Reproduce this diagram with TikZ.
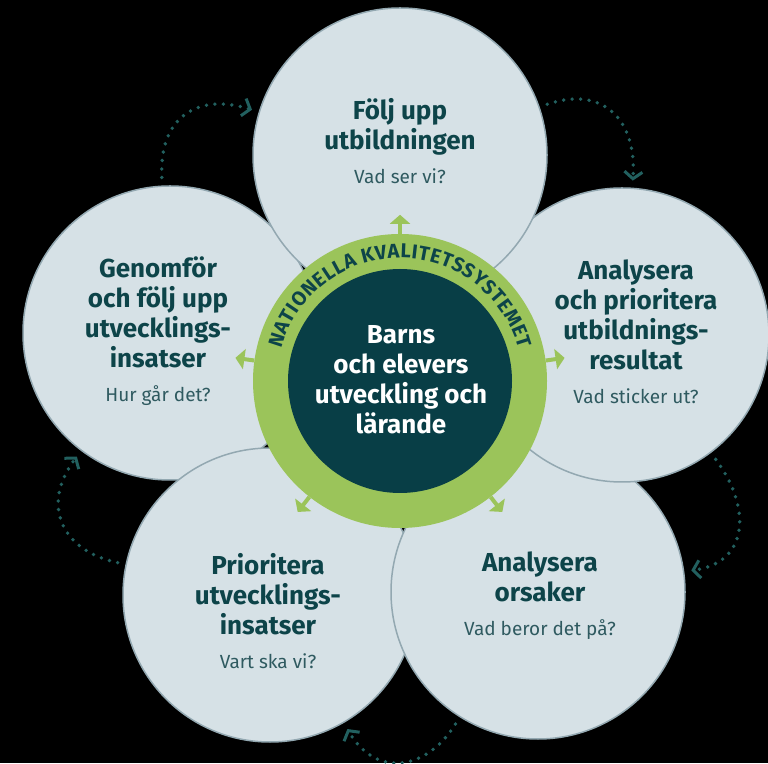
\documentclass[tikz,border=0pt]{standalone}
\usepackage{fontspec}
\setmainfont{Fira Sans}
\usetikzlibrary{positioning,arrows.meta,decorations.text}

\definecolor{petalfill}{HTML}{D6E1E6}
\definecolor{petaledge}{HTML}{93A8B1}
\definecolor{tealdark}{HTML}{0D4449}
\definecolor{tealsoft}{HTML}{2F5A60}
\definecolor{ringgreen}{HTML}{9BC45A}
\definecolor{coreteal}{HTML}{083E46}
\definecolor{dotteal}{HTML}{22605F}

\newcommand{\questfont}{\fontsize{19}{30}\selectfont\mdseries\color{tealsoft}}

\tikzstyle{petal} = [circle, fill=petalfill, draw=petaledge, line width=1.5pt,
                     minimum size=294pt, inner sep=0pt]
\tikzstyle{cyclearrow} = [dotteal, line width=3.8pt, line cap=round, dash pattern=on 0pt off 8.5pt,
                          -{Straight Barb[length=7pt,width=18pt,line width=3pt]},
                          shorten <=8pt, shorten >=7pt, looseness=1.4]

\begin{document}
\begin{tikzpicture}[
    x=1pt, y=1pt,
    stagetext/.style={
        text width=240pt,
        align=flush center,
        text=tealdark,
        font=\fontsize{26}{30}\selectfont\bfseries
    },
    ringarrow/.style={
        ringgreen,
        line width=4pt,
        -{Triangle[length=9pt,width=20pt]}
    }
    ]

    \fill[black] (0,0) rectangle (768,763);
    \useasboundingbox (0,0) rectangle (768,763);

    % the five steps
    \node[petal] (genomfor) at (170,430) {};
    \node[petal] (prioritera) at (270,168) {};
    \node[petal] (orsaker) at (538,171) {};
    \node[petal] (analysera) at (622,428) {};
    \node[petal] (foljupp) at (400,608) {};

    % green ring and core
    \node[circle, fill=ringgreen, minimum size=294pt, inner sep=0pt] (ring) at (400,382) {};
    \node[circle, fill=coreteal, minimum size=224pt, inner sep=0pt] (core) at (ring) {};

    \foreach \a in {90,172,8,232,308}
        \draw[ringarrow] (ring.\a) -- ++(\a:19);

    \path[decorate, decoration={text along path, text align=center,
        text={|\fontsize{20}{20}\selectfont\bfseries\color{tealdark}\kern0.6pt|NATIONELLA KVALITETSSYSTEMET}}]
        ([shift={(177:123)}]ring.center) arc[start angle=177, end angle=3, radius=123];

    % texts
    \node[stagetext, text=white] (t-core) at (401,383) {Barns\\och elevers\\utveckling och\\lärande};
    \node[stagetext] (t-foljupp) at (400,622) {Följ upp\\utbildningen\\[4pt]{\questfont Vad ser vi?}};
    \node[stagetext] (t-analysera) at (636,431) {Analysera\\och prioritera\\utbildnings-\\resultat\\[4pt]{\questfont Vad sticker ut?}};
    \node[stagetext] (t-orsaker) at (540,167) {Analysera\\orsaker\\[4pt]{\questfont Vad beror det på?}};
    \node[stagetext] (t-prioritera) at (268,152) {Prioritera\\utvecklings-\\insatser\\[4pt]{\questfont Vart ska vi?}};
    \node[stagetext] (t-genomfor) at (158,432) {Genomför\\och följ upp\\utvecklings-\\insatser\\[4pt]{\questfont Hur går det?}};

    % cycle
    \draw[cyclearrow] (genomfor.93) to[out=93, in=163] (foljupp.163);
    \draw[cyclearrow] (foljupp.19) to[out=19, in=86] (analysera.86);
    \draw[cyclearrow] (analysera.-53) to[out=-53, in=8] (orsaker.8);
    \draw[cyclearrow] (orsaker.-122) to[out=-122, in=-60] (prioritera.-60);
    \draw[cyclearrow] (prioritera.168) to[out=168, in=-127] (genomfor.-127);
\end{tikzpicture}
\end{document}
